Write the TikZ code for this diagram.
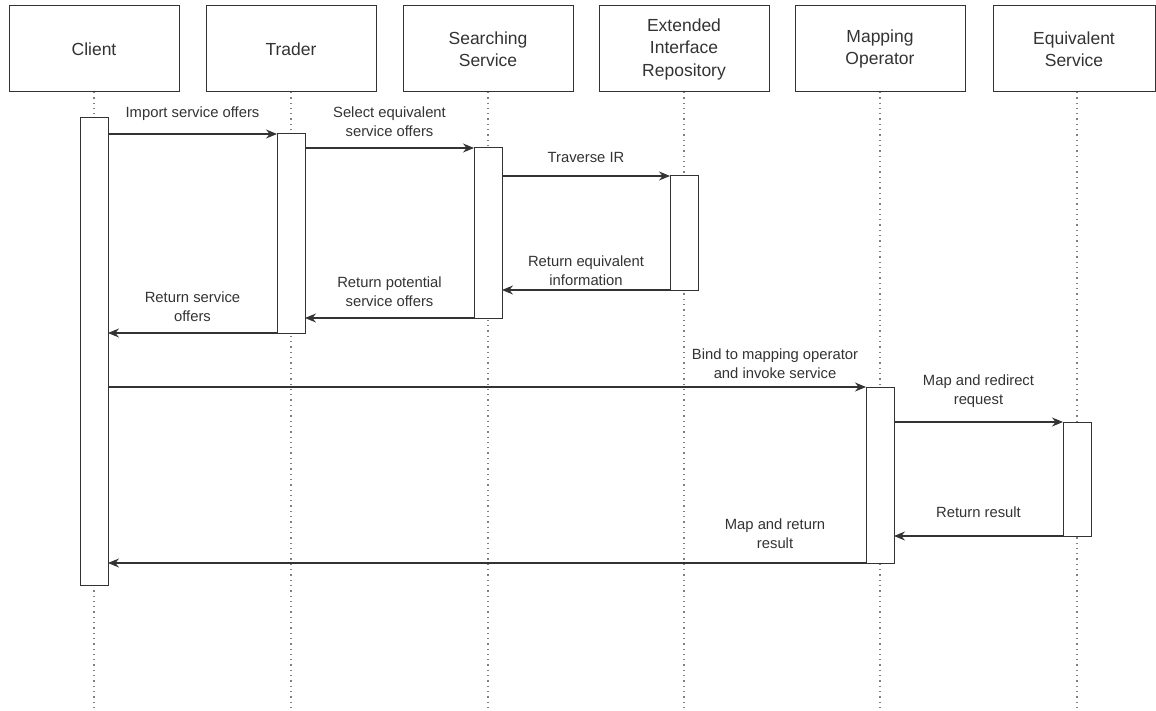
\documentclass[tikz,border=0pt]{standalone}
\usepackage{fontspec}
\setmainfont{Liberation Sans}
\usetikzlibrary{arrows.meta}
\definecolor{ink}{HTML}{333333}
\begin{document}
\begin{tikzpicture}[x=1pt,y=-1pt,
  head/.style={draw=ink,line width=1pt,minimum width=170pt,minimum height=86pt,align=center,
    font=\fontsize{17.5}{22.5}\selectfont,text=ink,outer sep=0pt},
  bar/.style={draw=ink,fill=white,line width=1pt,minimum width=28pt,inner sep=0pt,outer sep=0pt},
  life/.style={draw=gray,line width=1.3pt,dash pattern=on 1.3pt off 4pt},
  msg/.style={draw=ink,line width=1.1pt,-{Stealth[length=11pt,width=9pt]}},
  lbl/.style={above=10pt,inner sep=1pt,align=center,font=\fontsize{14.8}{18.5}\selectfont,text=ink}]
\useasboundingbox (0,0) rectangle (1156,711);
\foreach \n/\x/\t in {cl/94/Client, tr/291/Trader, ss/488/{Searching\\Service},
    ir/684/{Extended\\Interface\\Repository}, mo/880/{Mapping\\Operator}}{
  \node[head] (h\n) at (\x,49) {\t};
  \coordinate (e\n) at (\x,711);
  \draw[life] (h\n) -- (e\n);
}
\node[head,minimum width=162pt] (hes) at (1074,49) {Equivalent\\Service};
\coordinate (ees) at (1077,711);
\draw[life] (hes.south -| ees) -- (ees);
\node[bar,minimum height=467pt] (bcl) at (94,351.5) {};
\node[bar,minimum height=199pt] (btr) at (291,233.5) {};
\node[bar,minimum height=170pt] (bss) at (488,233) {};
\node[bar,minimum height=114pt] (bir) at (684,233) {};
\node[bar,minimum height=176pt] (bmo) at (880,475) {};
\node[bar,minimum height=114pt] (bes) at (1077,479) {};
\draw[msg] (bcl.east |- btr.north west) -- node[lbl,yshift=2pt]{Import service offers} (btr.north west);
\draw[msg] (btr.east |- bss.north west) -- node[lbl]{Select equivalent\\service offers} (bss.north west);
\draw[msg] (bss.east |- bir.north west) -- node[lbl,yshift=2pt]{Traverse IR} (bir.north west);
\draw[msg] (bir.south west) -- node[lbl,yshift=-7pt]{Return equivalent\\information} (bss.east |- bir.south west);
\draw[msg] (bss.south west) -- node[lbl]{Return potential\\service offers} (btr.east |- bss.south west);
\draw[msg] (btr.south west) -- node[lbl]{Return service\\offers} (bcl.east |- btr.south west);
\draw[msg] (bcl.east |- bmo.north west) -- node[lbl,pos=.88,yshift=-3pt]{Bind to mapping operator\\and invoke service} (bmo.north west);
\draw[msg] (bmo.east |- bes.north west) -- node[lbl,yshift=3pt]{Map and redirect\\request} (bes.north west);
\draw[msg] (bes.south west) -- node[lbl,yshift=7pt]{Return result} (bmo.east |- bes.south west);
\draw[msg] (bmo.south west) -- node[lbl,pos=.12,yshift=3pt]{Map and return\\result} (bcl.east |- bmo.south west);
\end{tikzpicture}
\end{document}
